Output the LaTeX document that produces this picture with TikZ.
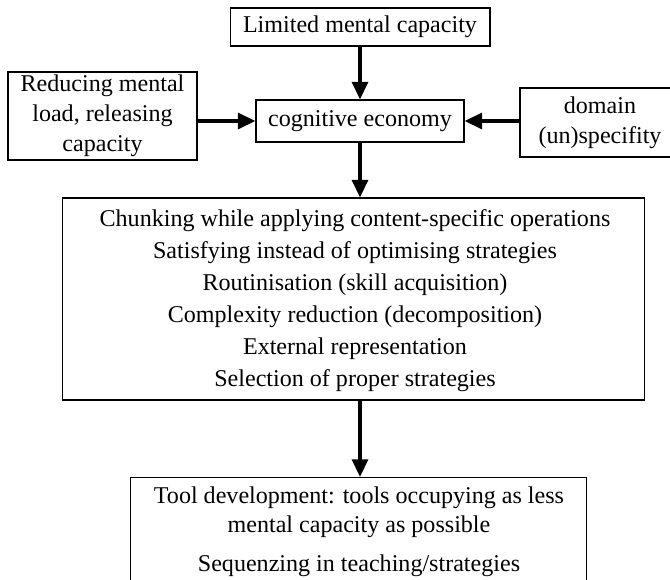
\documentclass[tikz,border=0pt]{standalone}
\usepackage{fontspec}
\setmainfont{Liberation Serif}
\usetikzlibrary{arrows.meta}

\begin{document}
\begin{tikzpicture}[x=0.02cm,y=-0.02cm,font=\fontsize{13.7}{17}\selectfont,
  box/.style={draw,line width=0.6pt,inner sep=0pt,align=center},
  arr/.style={line width=2pt,-{Triangle[length=10pt,width=9pt]}}]
\useasboundingbox (0,0) rectangle (670,580);
\node[box,minimum width=5.2cm,minimum height=0.76cm] (limit) at (360,27) {Limited mental capacity};
\node[box,minimum width=3.78cm,minimum height=1.76cm] (reduce) at (102.5,116) {Reducing mental\\load, releasing\\capacity};
\node[box,minimum width=4.16cm,minimum height=0.84cm] (econ) at (360,121) {cognitive economy};
\node[box,minimum width=3.2cm,minimum height=1.38cm] (domain) at (600,122.5) {domain\\(un)specifity};
\node[box,minimum width=11.66cm,minimum height=4.04cm] (ops) at (353.5,299) {};
\node[align=center,font=\fontsize{13.7}{18.2}\selectfont] (opstext) at (355,300.5) {Chunking while applying content-specific operations\\
  Satisfying instead of optimising strategies\\
  Routinisation (skill acquisition)\\
  Complexity reduction (decomposition)\\
  External representation\\
  Selection of proper strategies};
\node[box,minimum width=9.14cm,minimum height=2.6cm,anchor=north] (tool) at (358.5,477) {};
\node[align=center,font=\fontsize{13.7}{16.4}\selectfont] (tooltext) at (359,532) {Tool development: tools occupying as less\\
  mental capacity as possible\\[6pt]
  Sequenzing in teaching/strategies};
\draw[arr] (limit) -- (econ);
\draw[arr] (reduce.east |- econ) -- (econ.west);
\draw[arr] (domain.west |- econ) -- (econ.east);
\draw[arr] (econ.south) -- (econ.south |- ops.north);
\draw[arr] (ops.south -| econ) -- (tool.north -| econ);
\end{tikzpicture}
\end{document}
